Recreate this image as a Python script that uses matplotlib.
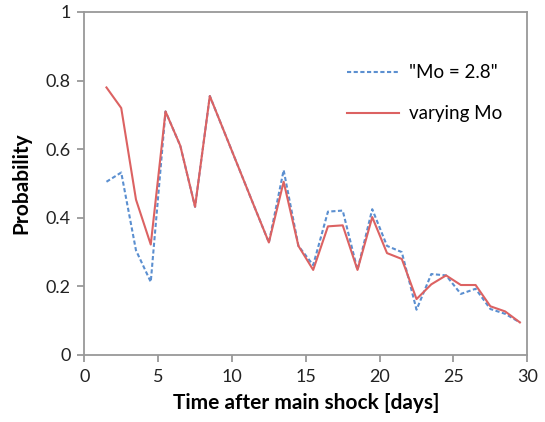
import matplotlib.pyplot as plt

plt.rcParams['font.family'] = ['Lato', 'DejaVu Sans']

# days after main shock (mid-day points)
days = [1.5, 2.5, 3.5, 4.5, 5.5, 6.5, 7.5, 8.5, 9.5, 10.5,
        11.5, 12.5, 13.5, 14.5, 15.5, 16.5, 17.5, 18.5, 19.5, 20.5,
        21.5, 22.5, 23.5, 24.5, 25.5, 26.5, 27.5, 28.5, 29.5]

# probability with fixed Mo = 2.8
p_fixed = [0.505, 0.532, 0.305, 0.213, 0.71, 0.61, 0.432, 0.755, 0.648, 0.541,
           0.434, 0.328, 0.539, 0.318, 0.262, 0.418, 0.421, 0.248, 0.425, 0.318,
           0.300, 0.132, 0.236, 0.232, 0.178, 0.193, 0.134, 0.120, 0.095]

# probability with varying Mo
p_varying = [0.78, 0.72, 0.453, 0.322, 0.71, 0.61, 0.432, 0.755, 0.648, 0.541,
             0.434, 0.328, 0.505, 0.318, 0.248, 0.375, 0.378, 0.248, 0.402, 0.297,
             0.280, 0.163, 0.206, 0.232, 0.204, 0.204, 0.142, 0.127, 0.095]

xticks = [0, 5, 10, 15, 20, 25, 30]
yticks = [0, 0.2, 0.4, 0.6, 0.8, 1]
ytick_labels = ['0', '0.2', '0.4', '0.6', '0.8', '1']

fig = plt.figure(figsize=(5.45, 4.22), dpi=100)
ax = fig.add_axes([0.1547, 0.1588, 0.8128, 0.8128])

ax.plot(days, p_fixed, color='#5b8fd0', linestyle=(0, (2, 1.2)), linewidth=1.5,
        label='"Mo = 2.8"')
ax.plot(days, p_varying, color='#dc6262', linewidth=1.5, label='varying Mo')

ax.set_xlim(0, 30)
ax.set_ylim(0, 1)
ax.set_xticks(xticks)
ax.set_yticks(yticks)
ax.set_yticklabels(ytick_labels)

for s in ax.spines.values():
    s.set_color('#999999')
    s.set_linewidth(1.3)
ax.tick_params(colors='#999999', labelcolor='#222222', labelsize=13,
               length=5, width=1.3, direction='out', pad=5)

ax.set_xlabel('Time after main shock [days]', fontsize=15, fontweight='bold',
              labelpad=6)
ax.set_ylabel('Probability', fontsize=15, fontweight='bold', labelpad=10)

ax.legend(loc='upper left', bbox_to_anchor=(0.593, 0.848), frameon=False,
          fontsize=13.5, labelspacing=1.3, handlelength=2.8, handletextpad=0.5,
          borderaxespad=0, borderpad=0)

fig.savefig('out.png', dpi=100)
